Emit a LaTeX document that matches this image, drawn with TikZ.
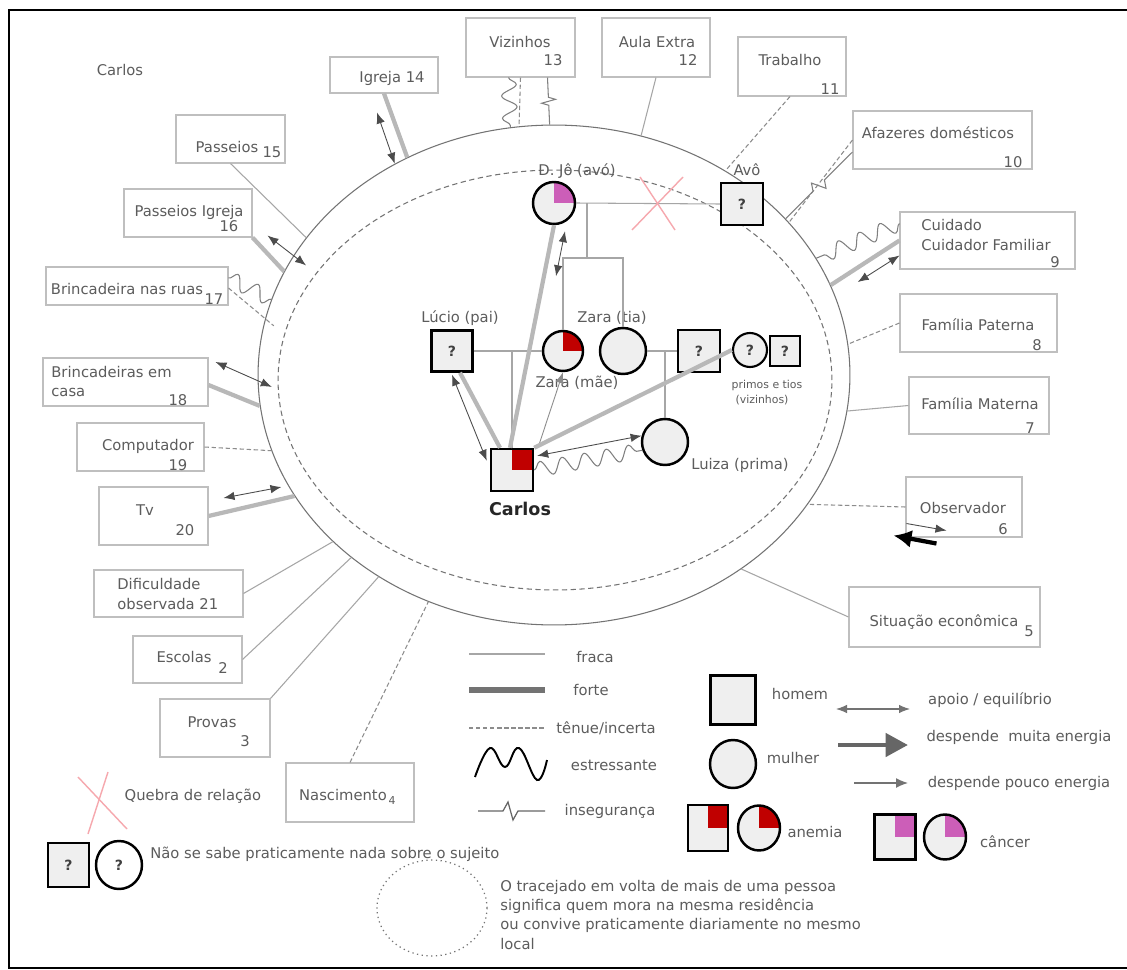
\documentclass[tikz,border=0pt]{standalone}
\usepackage{fontspec}
\setmainfont{DejaVu Sans}
\usetikzlibrary{shapes.geometric,decorations.pathmorphing,arrows.meta,calc}

\definecolor{anemiared}{HTML}{C00000}
\definecolor{cancerpink}{HTML}{CC5EB8}
\definecolor{txtgray}{HTML}{5C5C5C}
\definecolor{quebrapink}{HTML}{F6A8AE}
\definecolor{pessoa}{HTML}{EFEFEF}

\tikzset{
  ecobox/.style={draw=black!25, line width=0.6pt, inner sep=0pt},
  txt/.style={text=txtgray, font=\fontsize{8.4}{10}\selectfont, inner sep=0pt},
  small/.style={text=txtgray, font=\fontsize{6.2}{7}\selectfont, inner sep=0pt},
  fraca/.style={draw=black!35, line width=0.6pt},
  forte/.style={draw=black!28, line width=2.4pt},
  tenue/.style={draw=black!45, line width=0.6pt, dash pattern=on 2.5pt off 1.5pt},
  estresse/.style={draw=black!50, line width=0.6pt, decorate,
    decoration={snake, amplitude=1.5mm, segment length=4.5mm}},
  inseg/.style={draw=black!50, line width=0.6pt,
    to path={-- ($(\tikztostart)!0.42!(\tikztotarget)$)
      -- ($(\tikztostart)!0.47!(\tikztotarget)!4pt!90:(\tikztotarget)$)
      -- ($(\tikztostart)!0.54!(\tikztotarget)!4pt!-90:(\tikztotarget)$)
      -- ($(\tikztostart)!0.59!(\tikztotarget)$) -- (\tikztotarget)}},
  apoio/.style={<->, draw=black!70, line width=0.5pt},
  man/.style={draw=black, line width=1.4pt, fill=pessoa, minimum size=0.84cm, inner sep=0pt,
    font=\bfseries\fontsize{8}{9}\selectfont, text=black!75},
  woman/.style={man, circle},
  anemia/.style={path picture={\fill[anemiared] (path picture bounding box.center) rectangle (path picture bounding box.north east);}},
  cancer/.style={path picture={\fill[cancerpink] (path picture bounding box.center) rectangle (path picture bounding box.north east);}},
}

\begin{document}
\begin{tikzpicture}[x=0.02cm, y=-0.02cm, >={Latex[length=2.2mm,width=1.7mm]}]
  \useasboundingbox (0,0) rectangle (1127,970);
  \fill[white] (0,0) rectangle (1127,970);
  \draw[line width=1.3pt] (1127,10) -- (9,10) -- (9,968) -- (1127,968);

  % ecomapa
  \node[ellipse, draw=black!55, line width=0.6pt, minimum width=11.84cm, minimum height=10cm, inner sep=0pt] (eco) at (554,375) {};
  \node[ellipse, draw=black!55, line width=0.6pt, dash pattern=on 3pt off 2pt, minimum width=11.08cm, minimum height=8.4cm, inner sep=0pt] (casa) at (555,380) {};

  \node[txt] (titulo) at (120,70) {Carlos};

  % caixas em volta
  \node[ecobox, minimum width=2.16cm, minimum height=0.72cm] (igreja) at (384,75) {};
  \node[txt] (t14) at (392,78) {Igreja 14};
  \node[ecobox, minimum width=2.18cm, minimum height=1.18cm] (vizinhos) at (520.5,47.5) {};
  \node[txt] (t13a) at (520,42) {Vizinhos};
  \node[txt] (t13) at (553,60) {13};
  \node[ecobox, minimum width=2.16cm, minimum height=1.18cm] (aula) at (656,47.5) {};
  \node[txt] (t12a) at (657,42) {Aula Extra};
  \node[txt] (t12) at (688,60) {12};
  \node[ecobox, minimum width=2.16cm, minimum height=1.18cm] (trabalho) at (792,66.5) {};
  \node[txt] (t11a) at (790,60) {Trabalho};
  \node[txt] (t11) at (830,89) {11};
  \node[ecobox, minimum width=3.58cm, minimum height=1.16cm] (afazeres) at (942.5,140) {};
  \node[txt] (t10a) at (938,133) {Afazeres domésticos};
  \node[txt] (t10) at (1013,162) {10};
  \node[ecobox, minimum width=3.5cm, minimum height=1.14cm] (cuidado) at (987.5,240.5) {};
  \node[txt, anchor=west] (t9a) at (921,225) {Cuidado};
  \node[txt, anchor=west] (t9b) at (921,245) {Cuidador Familiar};
  \node[txt] (t9) at (1055,262) {9};
  \node[ecobox, minimum width=3.14cm, minimum height=1.16cm] (paterna) at (978.5,323) {};
  \node[txt] (t8a) at (978,325) {Família Paterna};
  \node[txt] (t8) at (1037,345) {8};
  \node[ecobox, minimum width=2.8cm, minimum height=1.14cm] (materna) at (979,405.5) {};
  \node[txt] (t7a) at (980,404) {Família Materna};
  \node[txt] (t7) at (1030,428) {7};
  \node[ecobox, minimum width=2.32cm, minimum height=1.2cm] (observador) at (964,507) {};
  \node[txt] (t6a) at (963,508) {Observador};
  \node[txt] (t6) at (1003,529) {6};
  \node[ecobox, minimum width=3.82cm, minimum height=1.2cm] (situacao) at (944.5,617) {};
  \node[txt] (t5a) at (944,622) {Situação econômica};
  \node[txt] (t5) at (1029,631) {5};
  \node[ecobox, minimum width=2.56cm, minimum height=1.18cm] (nascimento) at (350,792.5) {};
  \node[txt] (t4a) at (343,795) {Nascimento};
  \node[small] (t4) at (392,801) {4};
  \node[ecobox, minimum width=2.2cm, minimum height=1.16cm] (provas) at (215,728) {};
  \node[txt] (t3a) at (212,722) {Provas};
  \node[txt] (t3) at (245,741) {3};
  \node[ecobox, minimum width=2.18cm, minimum height=0.94cm] (escolas) at (187.5,659.5) {};
  \node[txt] (t2a) at (184,657) {Escolas};
  \node[txt] (t2) at (223,668) {2};
  \node[ecobox, minimum width=2.98cm, minimum height=0.94cm] (dificuldade) at (168.5,593.5) {};
  \node[txt, anchor=west] (t21a) at (117,584) {Dificuldade};
  \node[txt, anchor=west] (t21b) at (117,604) {observada 21};
  \node[ecobox, minimum width=2.18cm, minimum height=1.16cm] (tv) at (153.5,516) {};
  \node[txt] (t20a) at (145,510) {Tv};
  \node[txt] (t20) at (185,530) {20};
  \node[ecobox, minimum width=2.54cm, minimum height=0.96cm] (computador) at (140.5,447) {};
  \node[txt] (t19a) at (148,446) {Computador};
  \node[txt] (t19) at (178,465) {19};
  \node[ecobox, minimum width=3.3cm, minimum height=0.96cm] (brincasa) at (125.5,382) {};
  \node[txt, anchor=west] (t18a) at (51,372) {Brincadeiras em};
  \node[txt, anchor=west] (t18b) at (51,392) {casa};
  \node[txt] (t18) at (178,400) {18};
  \node[ecobox, minimum width=3.64cm, minimum height=0.76cm] (ruas) at (137,286) {};
  \node[txt] (t17a) at (127,289) {Brincadeira nas ruas};
  \node[txt] (t17) at (214,299) {17};
  \node[ecobox, minimum width=2.56cm, minimum height=0.96cm] (passigreja) at (188,213) {};
  \node[txt] (t16a) at (189,212) {Passeios Igreja};
  \node[txt] (t16) at (229,226) {16};
  \node[ecobox, minimum width=2.18cm, minimum height=0.96cm] (passeios) at (230.5,139) {};
  \node[txt] (t15a) at (227,147) {Passeios};
  \node[txt] (t15) at (272,152) {15};

  % ligacoes com o ecomapa
  \draw[forte] (igreja.south) -- (eco.124);
  \draw[apoio] ([shift={(-7,19)}]igreja.south) -- (eco.127);
  \draw[estresse] ([shift={(-12,0)}]vizinhos.south) -- (eco.100);
  \draw[tenue] (vizinhos.south) -- (eco.98);
  \draw[inseg] ([shift={(27,0)}]vizinhos.south) to (eco.91.5);
  \draw[fraca] (aula.south) -- (eco.70);
  \draw[tenue] ([shift={(-2,0)}]trabalho.south) -- (eco.50);
  \draw[tenue] (afazeres.west) -- (eco.33);
  \draw[inseg] ([shift={(0,12)}]afazeres.west) to (eco.34.5);
  \draw[forte] (cuidado.west) -- (eco.18);
  \draw[apoio] ([shift={(0,15)}]cuidado.west) -- ([shift={(27,-3)}]eco.18);
  \draw[estresse] ([shift={(0,-17)}]cuidado.west) -- (eco.24);
  \draw[tenue] (paterna.west) -- (eco.6.5);
  \draw[fraca] (materna.west) -- (eco.-7.6);
  \draw[tenue] (observador.west) -- (eco.-27.5);
  \draw[-{Latex[length=3.6mm,width=3.6mm]}, line width=2.4pt] ([shift={(31,6)}]observador.south west) -- ([shift={(-12,-2)}]observador.south west);
  \draw[->, line width=0.5pt, black!70] ([shift={(1,-14)}]observador.south west) -- ([shift={(41,-7)}]observador.south west);
  \draw[fraca] (situacao.west) -- (eco.-46.3);
  \draw[tenue] (nascimento.north) -- (eco.241);
  \draw[fraca] (provas.north east) -- (eco.229);
  \draw[fraca] (escolas.east) -- (eco.222.7);
  \draw[fraca] (dificuldade.east) -- (eco.217.3);
  \draw[forte] (tv.east) -- (eco.205.4);
  \draw[apoio] ([shift={(15,-18)}]tv.east) -- ([shift={(-13,-9)}]eco.205.4);
  \draw[tenue] (computador.east) -- (eco.195);
  \draw[forte] ([shift={(0,3)}]brincasa.east) -- (eco.186);
  \draw[apoio] ([shift={(7,-20)}]brincasa.east) -- ([shift={(12,-19)}]eco.186);
  \draw[tenue] ([shift={(0,2)}]ruas.east) -- ([shift={(10,2)}]eco.170);
  \draw[estresse] ([shift={(0,-8)}]ruas.east) -- (eco.165);
  \draw[forte] (passigreja.south east) -- (eco.159.4);
  \draw[apoio] ([shift={(15,-2)}]passigreja.south east) -- ([shift={(22,-6)}]eco.159.4);
  \draw[fraca] (passeios.south) -- (eco.151);

  % genograma
  \node[woman, cancer] (djo) at (554,203) {};
  \node[txt] (tdjo) at (577,171) {D. Jô (avó)};
  \node[man] (avo) at (742,204) {?};
  \node[txt] (tavo) at (747,170) {Avô};
  \node[man, minimum size=0.82cm] (lucio) at (452,351) {?};
  \node[txt] (tlucio) at (460,318) {Lúcio (pai)};
  \node[woman, anemia, minimum size=0.8cm] (mae) at (563,351) {};
  \node[txt] (tmae) at (577,383) {Zara (mãe)};
  \node[woman, minimum size=0.92cm] (tia) at (623,351) {};
  \node[txt] (ttia) at (612,318) {Zara (tia)};
  \node[man] (tio) at (699,351) {?};
  \node[woman, minimum size=0.68cm, line width=1.2pt] (prima) at (750,350) {?};
  \node[man, minimum size=0.6cm, line width=1.2pt] (primo) at (785,351) {?};
  \node[small] (tprimos) at (767,385) {primos e tios};
  \node[small] (tviz) at (762,400) {(vizinhos)};
  \node[woman, minimum size=0.92cm] (luiza) at (665,442) {};
  \node[txt] (tluiza) at (740,465) {Luiza (prima)};
  \node[man, anemia] (carlos) at (512,470) {};
  \node[font=\bfseries\fontsize{10}{12}\selectfont, text=black!85] (tcarlos) at (520,509) {Carlos};

  \coordinate (irmaos) at (587,258);
  \coordinate (xq) at (657,203);
  \draw[fraca] (djo.east) -- (avo.west);
  \draw[fraca] (irmaos) -- (irmaos |- djo.east);
  \draw[fraca] (mae.north) |- (irmaos) -| (tia.north);
  \draw[quebrapink, line width=0.8pt] ([shift={(-25,27)}]xq) -- ([shift={(26,-26)}]xq);
  \draw[quebrapink, line width=0.8pt] ([shift={(-17,-26)}]xq) -- ([shift={(18,27)}]xq);
  \draw[fraca] (lucio.east) -- (mae.west);
  \draw[fraca] (lucio.east -| carlos.north) -- (carlos.north);
  \draw[fraca] (tia.east) -- (tio.west);
  \draw[fraca] (tia.east -| luiza.north) -- (luiza.north);

  \draw[forte] ([shift={(-2,0)}]carlos.north) -- (djo.south);
  \draw[apoio] ([shift={(11,6)}]djo.south) -- ([shift={(2,51)}]djo.south);
  \draw[forte] ([shift={(8,0)}]lucio.south) -- ([shift={(-12,0)}]carlos.north);
  \draw[apoio] ([shift={(0,2)}]lucio.south) -- ([shift={(-3,13)}]carlos.north west);
  \draw[->, draw=black!45, line width=0.5pt] ([shift={(26,0)}]carlos.north) -- (mae.south);
  \draw[forte] (carlos.north east) -- (prima.west);
  \draw[apoio] ([shift={(3,8)}]carlos.north east) -- (luiza.165);
  \draw[estresse] (carlos.east) -- (luiza.200);

  % legenda
  \draw[fraca] (469,654) -- (545,654);
  \node[txt] (lfraca) at (595,657) {fraca};
  \draw[black!55, line width=3pt] (469,690) -- (545,690);
  \node[txt] (lforte) at (591,690) {forte};
  \draw[tenue] (469,728) -- (545,728);
  \node[txt] (ltenue) at (606,728) {tênue/incerta};
  \draw[line width=1.1pt] plot[smooth, tension=0.7] coordinates {(475,777) (490,748) (505,767) (519,748) (537,780) (547,760)};
  \node[txt] (lestr) at (614,765) {estressante};
  \draw[black!60, line width=0.7pt] (478,811) -- (503,811) -- (508,802) -- (513,820) -- (518,811) -- (545,811);
  \node[txt] (linseg) at (610,811) {insegurança};

  \node[man, minimum width=0.9cm, minimum height=0.98cm] (lhomem) at (733,700) {};
  \node[txt] (thomem) at (800,694) {homem};
  \node[man, ellipse, minimum width=0.92cm, minimum height=0.96cm] (lmulher) at (733,764) {};
  \node[txt] (tmulher) at (793,758) {mulher};
  \node[man, anemia, minimum width=0.8cm, minimum height=0.92cm] (lanh) at (708,828) {};
  \node[man, ellipse, anemia, minimum width=0.84cm, minimum height=0.9cm] (lanm) at (759,828) {};
  \node[txt] (tanemia) at (815,832) {anemia};
  \node[man, cancer, minimum width=0.82cm, minimum height=0.9cm] (lcah) at (895,837) {};
  \node[man, ellipse, cancer, minimum width=0.84cm, minimum height=0.9cm] (lcam) at (945,837) {};
  \node[txt] (tcancer) at (1005,842) {câncer};

  \draw[<->, black!55, line width=0.6pt] (836,709) -- (910,709);
  \node[txt] (tapoio) at (990,700) {apoio / equilíbrio};
  \draw[-{Triangle[length=4.5mm,width=4.6mm]}, line width=2.8pt, black!60] (838,745) -- (908,745);
  \node[txt] (tmuita) at (1019,737) {despende\ \ muita energia};
  \draw[-{Latex[length=2.4mm,width=2mm]}, line width=0.8pt, black!55] (854,783) -- (908,783);
  \node[txt] (tpouco) at (1019,783) {despende pouco energia};

  \draw[quebrapink, line width=0.8pt] (78,777) -- (127,829);
  \draw[quebrapink, line width=0.8pt] (108,772) -- (88,834);
  \node[txt] (tquebra) at (193,796) {Quebra de relação};

  \node[man, minimum width=0.82cm, minimum height=0.88cm] (lqh) at (68.5,865) {?};
  \node[man, ellipse, minimum width=0.92cm, minimum height=0.96cm, fill=white] (lqm) at (119,865) {?};
  \node[txt, anchor=west] (tnada) at (150,854) {Não se sabe praticamente nada sobre o sujeito};

  \node[ellipse, draw=black!55, dotted, line width=0.7pt, minimum width=2.2cm, minimum height=1.92cm] (lcasa) at (432,908) {};
  \node[txt, anchor=west] (tc1) at (500,887) {O tracejado em volta de mais de uma pessoa};
  \node[txt, anchor=west] (tc2) at (500,906) {significa quem mora na mesma residência};
  \node[txt, anchor=west] (tc3) at (500,925) {ou convive praticamente diariamente no mesmo};
  \node[txt, anchor=west] (tc4) at (500,944) {local};
\end{tikzpicture}
\end{document}
